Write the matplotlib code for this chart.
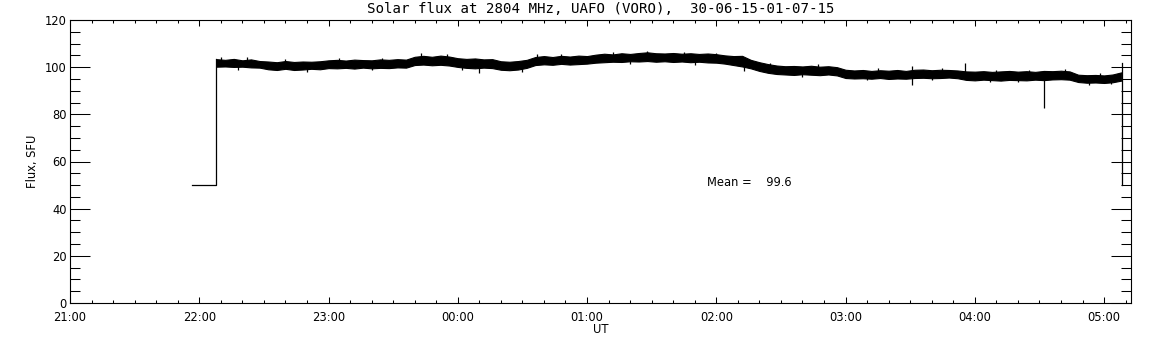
import numpy as np
import matplotlib
matplotlib.use("Agg")
import matplotlib.pyplot as plt
from matplotlib.ticker import MultipleLocator, FuncFormatter

# Time is expressed in minutes after 21:00 UT
title = "Solar flux at 2804 MHz, UAFO (VORO),  30-06-15-01-07-15"
x_label = "UT"
y_label = "Flux, SFU"
mean_text = "Mean =    99.6"

# Fill value recorded before the receiver came on line / after it stopped
fill_value = 50.0
fill_start = 56.6
data_start = 67.8
data_end = 488.4
first_high = 103.6
last_high = 101.6

# Envelope of the 2804 MHz record, sampled every 4 minutes from 22:08 UT
sample_minutes = list(range(68, 489, 4))
flux_upper = [
    103.4, 103.1, 103.5, 102.9, 103.3, 102.6, 102.4, 102.1, 102.6, 102.2,
    102.4, 102.3, 102.5, 102.9, 103.1, 102.8, 103.2, 103.0, 102.9, 103.3,
    103.1, 103.4, 103.2, 104.4, 104.8, 104.4, 104.9, 104.5, 103.8, 103.5,
    103.7, 103.3, 103.4, 102.5, 102.3, 102.6, 103.1, 104.3, 104.7, 104.3,
    104.8, 104.5, 104.9, 104.7, 105.3, 105.7, 105.4, 105.9, 105.6, 106.0,
    106.3, 105.9, 105.8, 106.0, 105.7, 105.9, 105.6, 105.8, 105.5, 105.0,
    104.7, 104.8, 103.1, 102.1, 101.3, 100.7, 100.4, 100.5, 100.3, 100.6,
    100.2, 100.4, 100.0, 98.9, 98.6, 98.8, 98.4, 98.7, 98.5, 98.8,
    98.4, 98.9, 99.0, 98.7, 98.9, 98.8, 98.6, 98.2, 98.1, 98.3,
    98.0, 98.2, 98.4, 98.1, 98.3, 98.0, 98.4, 98.3, 98.5, 98.2,
    96.8, 96.6, 96.7, 96.5, 96.9, 97.8,
]
flux_lower = [
    100.2, 100.3, 100.1, 100.2, 99.9, 99.8, 99.1, 98.8, 99.3, 98.8,
    99.0, 99.3, 99.1, 99.6, 99.5, 99.7, 99.4, 99.8, 99.5, 99.7,
    99.6, 99.9, 99.8, 100.9, 101.1, 100.8, 101.0, 100.7, 100.1, 99.7,
    99.5, 99.8, 99.6, 98.9, 98.7, 99.0, 99.7, 100.9, 101.2, 101.0,
    101.4, 101.1, 101.3, 101.5, 101.9, 102.1, 102.3, 102.2, 102.5, 102.4,
    102.6, 102.3, 102.5, 102.2, 102.4, 102.1, 102.3, 102.0, 101.9, 101.5,
    100.9, 100.3, 99.5, 98.4, 97.6, 97.1, 96.9, 96.7, 97.0, 96.8,
    96.6, 96.9, 96.5, 95.4, 95.2, 95.3, 95.1, 95.4, 95.0, 95.2,
    95.1, 95.4, 95.5, 95.3, 95.4, 95.6, 95.3, 94.6, 94.4, 94.7,
    94.5, 94.3, 94.6, 94.5, 94.4, 94.7, 94.5, 94.8, 94.9, 94.7,
    93.7, 93.4, 93.5, 93.3, 93.6, 94.3,
]

# Short excursions (time, minimum, maximum)
spike_minutes = [
    190.0, 311.0, 391.0, 415.5, 452.2,
    70.0, 82.0, 100.0, 125.0, 145.0, 163.0, 175.0, 217.0, 228.0, 252.0,
    268.0, 285.0, 300.0, 325.0, 347.0, 375.0, 405.0, 430.0, 445.0, 462.0,
    478.0,
    78.0, 110.0, 140.0, 182.0, 210.0, 260.0, 290.0, 313.0, 340.0, 370.0,
    400.0, 427.0, 440.0, 473.0, 483.0,
]
spike_low = [
    97.4, 100.5, 92.5, 98.0, 82.8,
    102.0, 102.0, 101.0, 102.0, 102.0, 103.5, 103.0, 104.0, 104.0, 105.0,
    105.0, 105.0, 104.5, 100.5, 99.5, 97.5, 97.8, 97.0, 97.0, 97.0,
    95.5,
    99.0, 98.0, 98.8, 98.9, 98.0, 101.2, 101.0, 98.5, 95.8, 94.4,
    94.6, 93.6, 93.5, 92.6, 92.7,
]
spike_high = [
    101.0, 104.6, 100.6, 101.6, 97.0,
    104.5, 104.2, 103.4, 104.0, 104.0, 105.8, 105.4, 105.6, 105.5, 106.4,
    106.9, 106.5, 106.0, 101.8, 101.2, 99.5, 99.7, 98.9, 99.0, 99.3,
    97.4,
    101.0, 100.0, 100.5, 101.0, 100.0, 103.0, 103.0, 100.5, 97.5, 96.5,
    96.5, 95.5, 95.5, 94.5, 94.5,
]

x_limits = (0, 492.5)
y_limits = (0, 120)
mean_pos = (295.7, 51.3)

plt.rcParams["font.family"] = ["DejaVu Sans"]

fig = plt.figure(figsize=(11.52, 3.45), dpi=100)
ax = fig.add_axes([70 / 1152, 42 / 345, (1131 - 70) / 1152, (303 - 20) / 345])

lw = 0.9
ax.plot([fill_start, data_start, data_start], [fill_value, fill_value, first_high],
        color="black", lw=lw)
ax.fill_between(sample_minutes, flux_lower, flux_upper,
                color="black", lw=0.8, edgecolor="black")
ax.vlines(spike_minutes, spike_low, spike_high, color="black", lw=lw)
ax.plot([data_end, data_end], [last_high, fill_value], color="black", lw=lw)

ax.set_xlim(*x_limits)
ax.set_ylim(*y_limits)

ax.xaxis.set_major_locator(MultipleLocator(60))
ax.xaxis.set_minor_locator(MultipleLocator(10))
ax.yaxis.set_major_locator(MultipleLocator(20))
ax.yaxis.set_minor_locator(MultipleLocator(5))


def hhmm(v, pos):
    m = int(round(v)) + 21 * 60
    return "%02d:%02d" % ((m // 60) % 24, m % 60)


ax.xaxis.set_major_formatter(FuncFormatter(hhmm))

ax.tick_params(axis="both", which="both", direction="in", colors="black",
               width=0.75, labelsize=8.3, top=True, right=True)
ax.tick_params(axis="x", which="major", length=4.5, pad=6)
ax.tick_params(axis="x", which="minor", length=2.2)
ax.tick_params(axis="y", which="major", length=14.4, pad=2.5)
ax.tick_params(axis="y", which="minor", length=7.2)
for s in ax.spines.values():
    s.set_linewidth(0.8)

ax.set_title(title, fontsize=10.2, pad=5, family="DejaVu Sans Mono")
ax.set_xlabel(x_label, fontsize=8.3, labelpad=-1)
ax.set_ylabel(y_label, fontsize=8.3, labelpad=4)
ax.text(mean_pos[0], mean_pos[1], mean_text, fontsize=8.3, va="center", ha="left")

fig.savefig("out.png", dpi=100, facecolor="white")
